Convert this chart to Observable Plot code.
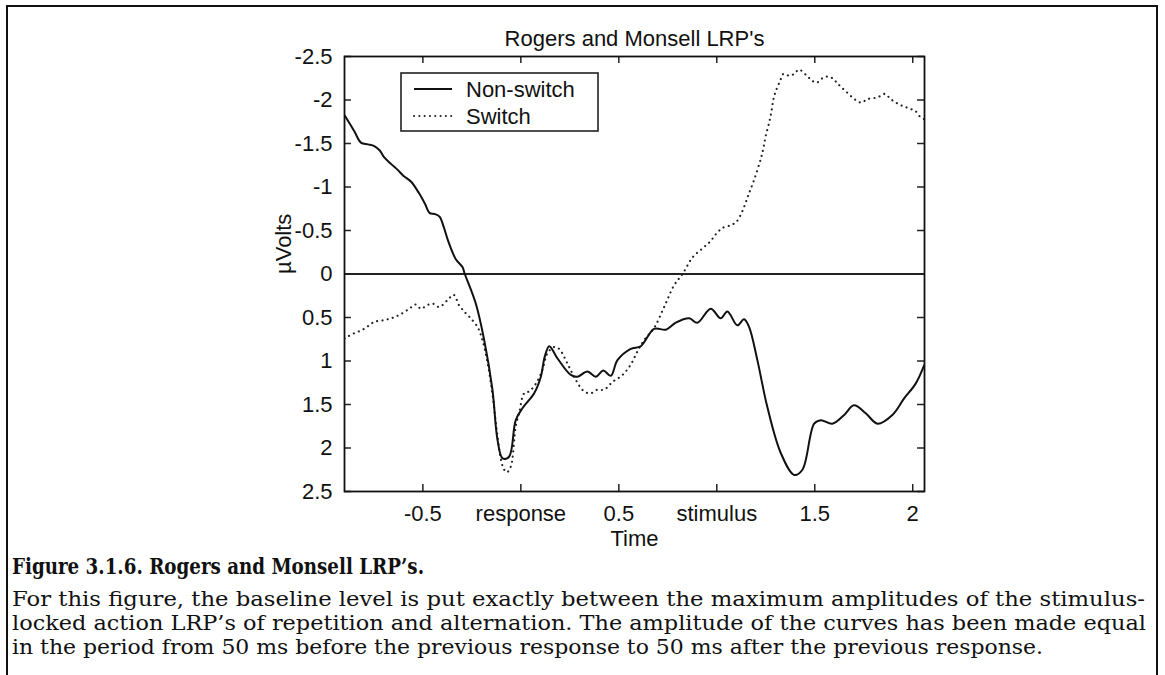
<!DOCTYPE html>
<html><head><meta charset="utf-8">
<script src="https://cdn.jsdelivr.net/npm/d3@7"></script>
<script src="https://cdn.jsdelivr.net/npm/@observablehq/plot@0.6"></script>
<style>
html,body{margin:0;padding:0;background:#fff;width:1165px;height:675px;overflow:hidden;}
#outer{position:absolute;left:6px;top:5px;width:1152px;height:760px;border:2px solid #111;box-sizing:border-box;}
#chart{position:absolute;left:0;top:0;}
#legend{position:absolute;left:400px;top:72px;}
.cap{position:absolute;left:12px;white-space:nowrap;transform-origin:0 50%;color:#111;}
.capTitle{font-family:"DejaVu Serif",serif;font-weight:bold;font-size:23px;line-height:26px;top:553px;}
.capLine{font-family:"DejaVu Serif",serif;font-size:21px;line-height:24px;}
</style></head><body>
<div id="outer"></div>
<div id="chart"></div>
<svg id="legend" width="200" height="62" font-family="Liberation Sans, Arial, sans-serif" font-size="22">
  <rect x="1" y="1" width="197" height="58" fill="#fff" stroke="#222" stroke-width="1.6"></rect>
  <line x1="14" x2="52" y1="17" y2="17" stroke="#111" stroke-width="2"></line>
  <line x1="14" x2="52" y1="44" y2="44" stroke="#222" stroke-width="2" stroke-dasharray="0.1 5.2" stroke-linecap="round"></line>
  <text x="66" y="17" dy="0.35em" fill="#111">Non-switch</text>
  <text x="66" y="44" dy="0.35em" fill="#111">Switch</text>
</svg>
<div class="cap capTitle" data-w="412">Figure 3.1.6. Rogers and Monsell LRP’s.</div>
<div class="cap capLine" style="top:587px" data-w="1133">For this figure, the baseline level is put exactly between the maximum amplitudes of the stimulus-</div>
<div class="cap capLine" style="top:611px" data-w="1134">locked action LRP’s of repetition and alternation. The amplitude of the curves has been made equal</div>
<div class="cap capLine" style="top:635px" data-w="1031">in the period from 50 ms before the previous response to 50 ms after the previous response.</div>
<script>
// ---- data (time in s relative to response, amplitude in µV) ----
const nonSwitchTime = [-0.898,-0.85,-0.816,-0.78,-0.748,-0.72,-0.697,-0.66,-0.63,-0.60,-0.56,-0.52,-0.49,-0.465,-0.44,-0.415,-0.395,-0.371,-0.332,-0.298,-0.286,-0.23,-0.187,-0.145,-0.119,-0.093,-0.06,-0.026,0.009,0.068,0.102,0.122,0.145,0.187,0.255,0.289,0.34,0.383,0.42,0.459,0.493,0.561,0.612,0.68,0.74,0.791,0.859,0.901,0.969,1.02,1.054,1.105,1.139,1.165,1.207,1.258,1.327,1.395,1.437,1.497,1.531,1.59,1.65,1.70,1.76,1.82,1.896,1.956,2.015,2.058];
const nonSwitchValue = [-1.82,-1.64,-1.51,-1.49,-1.47,-1.42,-1.34,-1.26,-1.20,-1.13,-1.06,-0.93,-0.81,-0.70,-0.69,-0.66,-0.55,-0.38,-0.17,-0.08,0.00,0.34,0.76,1.33,1.91,2.12,2.10,1.68,1.54,1.37,1.18,0.95,0.83,0.97,1.16,1.18,1.12,1.18,1.11,1.17,0.99,0.86,0.83,0.63,0.64,0.56,0.51,0.56,0.40,0.51,0.43,0.59,0.52,0.61,0.99,1.53,2.06,2.31,2.25,1.72,1.68,1.72,1.62,1.51,1.60,1.72,1.62,1.43,1.26,1.05];
const switchTime = [-0.9,-0.884,-0.85,-0.816,-0.78,-0.748,-0.697,-0.65,-0.612,-0.57,-0.536,-0.51,-0.48,-0.45,-0.417,-0.374,-0.343,-0.315,-0.29,-0.264,-0.221,-0.196,-0.17,-0.145,-0.12,-0.10,-0.085,-0.071,-0.051,-0.026,-0.009,0.017,0.042,0.077,0.11,0.136,0.17,0.195,0.238,0.281,0.323,0.357,0.391,0.425,0.468,0.519,0.561,0.595,0.629,0.68,0.731,0.782,0.825,0.876,0.93,0.969,1.0,1.03,1.07,1.10,1.13,1.16,1.19,1.224,1.238,1.25,1.267,1.279,1.289,1.301,1.323,1.34,1.369,1.395,1.42,1.463,1.488,1.51,1.539,1.565,1.59,1.616,1.658,1.709,1.738,1.769,1.82,1.857,1.888,1.93,1.973,2.015,2.04,2.058];
const switchValue = [0.74,0.72,0.68,0.65,0.60,0.55,0.53,0.50,0.46,0.40,0.35,0.40,0.36,0.34,0.38,0.30,0.24,0.36,0.43,0.49,0.61,0.76,1.02,1.38,1.85,2.15,2.25,2.28,2.21,1.75,1.60,1.37,1.35,1.26,1.10,0.91,0.84,0.86,1.03,1.22,1.35,1.37,1.33,1.33,1.24,1.16,1.04,0.89,0.76,0.62,0.38,0.13,0.00,-0.19,-0.30,-0.38,-0.47,-0.53,-0.56,-0.60,-0.72,-0.90,-1.08,-1.32,-1.45,-1.59,-1.74,-1.87,-2.01,-2.10,-2.22,-2.30,-2.28,-2.30,-2.35,-2.27,-2.22,-2.20,-2.25,-2.27,-2.25,-2.19,-2.10,-2.00,-1.97,-2.01,-2.03,-2.07,-2.01,-1.95,-1.91,-1.87,-1.80,-1.78];
const xTicks = [-0.5, 0, 0.5, 1, 1.5, 2];
const xTickLabels = ["-0.5", "response", "0.5", "stimulus", "1.5", "2"];
const yTicks = [-2.5, -2, -1.5, -1, -0.5, 0, 0.5, 1, 1.5, 2, 2.5];
const xDomain = [-0.9, 2.06];
const yDomain = [-2.5, 2.5];
const chartTitle = "Rogers and Monsell LRP's";
const xLabel = "Time";
const yLabel = "µVolts";

const nonSwitch = nonSwitchTime.map((t, i) => ({t, v: nonSwitchValue[i]}));
const switchData = switchTime.map((t, i) => ({t, v: switchValue[i]}));
const tickLenY = (yDomain[1] - yDomain[0]) * 0.016;
const tickLenX = (xDomain[1] - xDomain[0]) * 0.012;

const chart = Plot.plot({
  width: 1165, height: 560,
  marginLeft: 344, marginRight: 241, marginTop: 56, marginBottom: 69,
  style: {fontFamily: '"Liberation Sans", Arial, sans-serif', fontSize: "22px", color: "#111", background: "transparent"},
  x: {domain: xDomain, ticks: xTicks, tickFormat: d => xTickLabels[xTicks.indexOf(d)], tickSize: 0, tickPadding: 14, label: null},
  y: {domain: yDomain, reverse: true, ticks: yTicks, tickFormat: d => String(d), tickSize: 0, tickPadding: 12, label: null},
  marks: [
    Plot.ruleY([0], {stroke: "#222", strokeWidth: 1.8}),
    Plot.line(switchData, {x: "t", y: "v", stroke: "#222", strokeWidth: 2.1, strokeDasharray: "0.1 5.2", strokeLinecap: "round", curve: "catmull-rom", clip: true}),
    Plot.line(nonSwitch, {x: "t", y: "v", stroke: "#111", strokeWidth: 2, curve: "catmull-rom", clip: true}),
    Plot.ruleX(xTicks, {x: d => d, y1: yDomain[1], y2: yDomain[1] - tickLenY, stroke: "#222", strokeWidth: 1.5}),
    Plot.ruleX(xTicks, {x: d => d, y1: yDomain[0], y2: yDomain[0] + tickLenY, stroke: "#222", strokeWidth: 1.5}),
    Plot.ruleY(yTicks, {y: d => d, x1: xDomain[0], x2: xDomain[0] + tickLenX, stroke: "#222", strokeWidth: 1.5}),
    Plot.ruleY(yTicks, {y: d => d, x1: xDomain[1], x2: xDomain[1] - tickLenX, stroke: "#222", strokeWidth: 1.5}),
    Plot.frame({stroke: "#111", strokeWidth: 1.8}),
    Plot.text([chartTitle], {text: d => d, frameAnchor: "top", dy: -26, fill: "#111"}),
    Plot.text([yLabel], {text: d => d, frameAnchor: "left", rotate: -90, dx: -61, fill: "#111"}),
    Plot.text([xLabel], {text: d => d, frameAnchor: "bottom", dy: 54, fill: "#111"})
  ]
});
document.getElementById("chart").appendChild(chart);

function fitCaption() {
  document.querySelectorAll(".cap").forEach(el => {
    el.style.transform = "none";
    const w = el.getBoundingClientRect().width;
    const target = +el.dataset.w;
    if (w > 0) el.style.transform = `scaleX(${target / w})`;
  });
}
fitCaption();
if (document.fonts && document.fonts.ready) document.fonts.ready.then(fitCaption);
</script>
</body></html>
